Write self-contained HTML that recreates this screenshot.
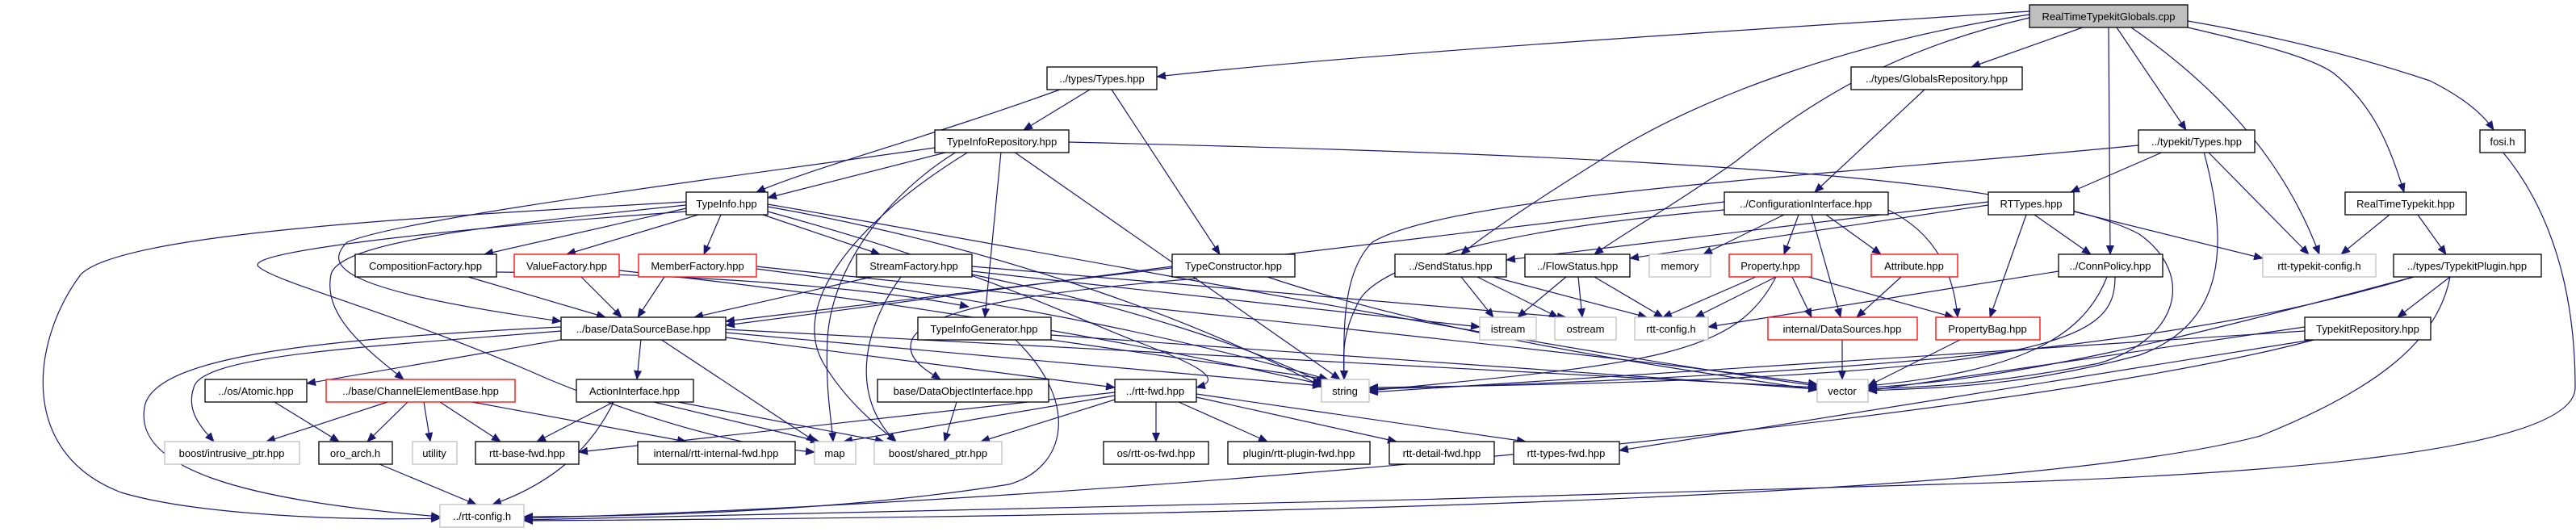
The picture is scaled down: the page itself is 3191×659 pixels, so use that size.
<!DOCTYPE html>
<html><head><meta charset="utf-8"><style>
html,body{margin:0;padding:0;background:#fff;}
svg{display:block}
text{font-family:"Liberation Sans",sans-serif;font-size:13px;fill:#000;}
.e{fill:none;stroke:#191970;stroke-width:1.2;marker-end:url(#a)}
</style></head><body>
<svg width="3191" height="659" viewBox="0 0 3191 659" xmlns="http://www.w3.org/2000/svg">
<defs><marker id="a" markerUnits="userSpaceOnUse" markerWidth="12" markerHeight="10" refX="11" refY="5" orient="auto"><path d="M0,0 L12,5 L0,10 z" fill="#191970"/></marker></defs>
<g>
<!-- Globals -->
<path class="e" d="M2514,14 C2200,35 1700,65 1433,95"/>
<path class="e" d="M2514,18 C2300,50 2100,120 1980,200 C1900,250 1840,290 1810,315"/>
<path class="e" d="M2514,22 C2350,60 2250,120 2150,200 C2080,250 2010,290 1975,315"/>
<path class="e" d="M2580,34 L2442,83"/>
<path class="e" d="M2612,34 L2614,315"/>
<path class="e" d="M2622,34 L2708,161"/>
<path class="e" d="M2640,34 C2750,110 2830,200 2873,315"/>
<path class="e" d="M2710,34 C2800,55 2860,70 2890,90 C2940,130 2960,180 2978,238"/>
<path class="e" d="M2710,26 C2850,50 2950,80 3010,100 C3050,120 3075,140 3089,161"/>
<path class="e" d="M2384,111 L2248,238"/>
<!-- Types.hpp -->
<path class="e" d="M1313,111 C1150,170 1000,210 937,238"/>
<path class="e" d="M1350,111 L1268,161"/>
<path class="e" d="M1377,111 L1511,315"/>
<!-- TypeInfoRepository -->
<path class="e" d="M1175,188 L951,245"/>
<path class="e" d="M1158,183 C900,220 500,270 430,300 C400,330 420,360 695,398"/>
<path class="e" d="M1200,188 C1050,280 980,380 1020,450 C1050,500 1090,530 1110,547"/>
<path class="e" d="M1185,188 C1100,240 1030,330 1025,420 C1022,480 1030,520 1032,547"/>
<path class="e" d="M1240,188 L1220,393"/>
<path class="e" d="M1256,188 L1660,470"/>
<path class="e" d="M1324,176 C1900,190 2500,210 2650,290 C2720,340 2700,420 2600,450 C2450,480 2350,480 2314,482"/>
<!-- TypeInfo -->
<path class="e" d="M850,258 L600,315"/>
<path class="e" d="M865,266 L702,315"/>
<path class="e" d="M893,266 L872,315"/>
<path class="e" d="M945,266 L1090,315"/>
<path class="e" d="M850,250 C500,270 150,290 100,340 C40,420 20,560 150,610 C250,640 450,645 545,642"/>
<path class="e" d="M850,254 C600,280 420,300 410,340 C400,390 450,430 500,470"/>
<path class="e" d="M951,256 C1200,300 1450,380 1640,480"/>
<path class="e" d="M951,253 C1400,330 1900,430 2251,478"/>
<path class="e" d="M951,262 C1200,330 1300,380 1400,420 C1480,450 1520,470 1482,480"/>
<path class="e" d="M850,262 C600,280 300,310 320,330 C340,350 500,390 680,470 C850,540 950,555 1009,560"/>
<!-- factories -->
<path class="e" d="M580,343 L750,393"/>
<path class="e" d="M720,343 L770,393"/>
<path class="e" d="M823,343 L790,393"/>
<path class="e" d="M1080,343 L860,393"/>
<path class="e" d="M1204,336 L1833,405"/>
<path class="e" d="M1204,330 L1940,393"/>
<path class="e" d="M1116,343 C1060,420 1060,500 1110,547"/>
<path class="e" d="M1204,340 C1400,380 1550,430 1640,475"/>
<path class="e" d="M937,333 C1300,380 1500,430 1645,470"/>
<path class="e" d="M937,330 C1500,390 2000,440 2251,476"/>
<path class="e" d="M767,335 C1000,360 1300,400 1637,476"/>
<path class="e" d="M615,337 C900,340 1100,360 1200,380"/>
<path class="e" d="M1452,330 L899,403"/>
<path class="e" d="M1570,343 C1800,420 2100,460 2251,483"/>
<path class="e" d="M1483,345 C1300,360 1150,380 1130,420 C1120,445 1150,460 1165,470"/>
<!-- DataSourceBase -->
<path class="e" d="M794,420 L789,470"/>
<path class="e" d="M700,420 L380,475"/>
<path class="e" d="M818,420 L1010,547"/>
<path class="e" d="M899,418 L1381,480"/>
<path class="e" d="M899,412 L1637,478"/>
<path class="e" d="M899,408 L2251,480"/>
<path class="e" d="M695,405 C400,420 200,440 180,500 C160,580 300,620 545,640"/>
<path class="e" d="M695,410 C450,430 250,440 240,480 C230,510 250,530 265,547"/>
<!-- ChannelElementBase etc -->
<path class="e" d="M480,498 L330,547"/>
<path class="e" d="M505,498 L455,547"/>
<path class="e" d="M525,498 L533,547"/>
<path class="e" d="M545,498 L620,547"/>
<path class="e" d="M585,498 L850,547"/>
<path class="e" d="M340,498 L420,547"/>
<path class="e" d="M760,498 L665,547"/>
<path class="e" d="M760,498 C730,560 680,600 610,625"/>
<path class="e" d="M810,498 L1015,547"/>
<path class="e" d="M840,498 L1095,547"/>
<path class="e" d="M1185,498 L1170,547"/>
<path class="e" d="M1257,420 C1340,500 1320,580 1250,600 C1000,640 700,640 649,640"/>
<path class="e" d="M1295,420 L1645,470"/>
<path class="e" d="M1302,415 L2251,482"/>
<path class="e" d="M470,575 L590,625"/>
<!-- rtt-fwd -->
<path class="e" d="M1432,498 L1432,547"/>
<path class="e" d="M1460,498 L1570,547"/>
<path class="e" d="M1482,492 L1730,547"/>
<path class="e" d="M1482,488 L1890,547"/>
<path class="e" d="M1381,486 L717,560"/>
<path class="e" d="M1381,490 L1045,547"/>
<path class="e" d="M1381,495 L1215,547"/>
<!-- ConfigurationInterface -->
<path class="e" d="M2210,266 L2110,315"/>
<path class="e" d="M2228,266 L2210,315"/>
<path class="e" d="M2262,266 L2330,315"/>
<path class="e" d="M2244,266 L2280,393"/>
<path class="e" d="M2136,260 C1900,280 1700,320 1680,380 C1660,420 1665,450 1665,470"/>
<path class="e" d="M2136,250 L899,398"/>
<path class="e" d="M2339,260 C2400,290 2420,340 2425,393"/>
<!-- RTTypes -->
<path class="e" d="M2520,266 L2590,315"/>
<path class="e" d="M2510,266 L2465,393"/>
<path class="e" d="M2569,262 L2803,320"/>
<path class="e" d="M2463,250 L1866,322"/>
<path class="e" d="M2463,254 L2019,320"/>
<!-- typekit Types -->
<path class="e" d="M2680,188 L2565,238"/>
<path class="e" d="M2735,188 L2860,315"/>
<path class="e" d="M2730,188 C2760,300 2760,400 2650,440 C2500,480 2400,480 2314,484"/>
<path class="e" d="M2649,180 C2300,215 1800,240 1700,300 C1660,340 1665,420 1665,470"/>
<!-- ConnPolicy -->
<path class="e" d="M2550,336 L2116,405"/>
<path class="e" d="M2610,343 C2580,420 2500,460 2314,478"/>
<path class="e" d="M2620,343 C2620,420 2560,470 1696,480"/>
<!-- Property -->
<path class="e" d="M2175,343 L2060,393"/>
<path class="e" d="M2200,343 L2100,393"/>
<path class="e" d="M2220,343 L2244,393"/>
<path class="e" d="M2240,343 L2420,393"/>
<path class="e" d="M2200,343 C2150,440 2050,450 1696,484"/>
<path class="e" d="M2355,343 L2300,393"/>
<path class="e" d="M2282,420 L2282,470"/>
<path class="e" d="M2430,420 L2314,478"/>
<!-- Send/Flow -->
<path class="e" d="M1810,343 L1850,393"/>
<path class="e" d="M1830,343 L1930,393"/>
<path class="e" d="M1850,343 L2040,393"/>
<path class="e" d="M1940,343 L1880,393"/>
<path class="e" d="M1955,343 L1960,393"/>
<path class="e" d="M1975,343 L2060,393"/>
<!-- RealTimeTypekit / Plugin -->
<path class="e" d="M2960,266 L2900,315"/>
<path class="e" d="M2995,266 L3030,315"/>
<path class="e" d="M3035,343 L2970,393"/>
<path class="e" d="M2990,343 C2700,420 2500,470 2314,480"/>
<path class="e" d="M2990,343 C2800,400 2500,460 1696,482"/>
<path class="e" d="M3035,343 C3020,420 2950,480 2800,540 C2500,620 1500,640 649,645"/>
<path class="e" d="M2855,405 L2314,484"/>
<path class="e" d="M2855,410 L1696,486"/>
<path class="e" d="M2870,420 L2006,558"/>
<path class="e" d="M2870,420 C2500,520 1400,620 649,642"/>
<path class="e" d="M3100,188 C3160,260 3190,360 3190,480 C3190,560 2800,590 2400,600 C1800,620 900,640 649,644"/>
</g>
<g stroke-width="1.3">
<rect x="2514" y="6" width="196" height="28" fill="#bfbfbf" stroke="#000"/>
<rect x="2293" y="83" width="212" height="28" fill="#fff" stroke="#000"/>
<rect x="1297" y="83" width="136" height="28" fill="#fff" stroke="#000"/>
<rect x="1158" y="161" width="166" height="28" fill="#fff" stroke="#000"/>
<rect x="2649" y="161" width="144" height="28" fill="#fff" stroke="#000"/>
<rect x="3072" y="161" width="56" height="28" fill="#fff" stroke="#000"/>
<rect x="850" y="238" width="101" height="28" fill="#fff" stroke="#000"/>
<rect x="2136" y="238" width="203" height="28" fill="#fff" stroke="#000"/>
<rect x="2463" y="238" width="106" height="28" fill="#fff" stroke="#000"/>
<rect x="2905" y="238" width="150" height="28" fill="#fff" stroke="#000"/>
<rect x="440" y="315" width="175" height="28" fill="#fff" stroke="#000"/>
<rect x="637" y="315" width="130" height="28" fill="#fff" stroke="#f00"/>
<rect x="791" y="315" width="146" height="28" fill="#fff" stroke="#f00"/>
<rect x="1061" y="315" width="143" height="28" fill="#fff" stroke="#000"/>
<rect x="1452" y="315" width="152" height="28" fill="#fff" stroke="#000"/>
<rect x="1728" y="315" width="138" height="28" fill="#fff" stroke="#000"/>
<rect x="1889" y="315" width="130" height="28" fill="#fff" stroke="#000"/>
<rect x="2043" y="315" width="76" height="28" fill="#fff" stroke="#bfbfbf"/>
<rect x="2142" y="315" width="102" height="28" fill="#fff" stroke="#f00"/>
<rect x="2318" y="315" width="107" height="28" fill="#fff" stroke="#f00"/>
<rect x="2550" y="315" width="129" height="28" fill="#fff" stroke="#000"/>
<rect x="2803" y="315" width="140" height="28" fill="#fff" stroke="#bfbfbf"/>
<rect x="2965" y="315" width="183" height="28" fill="#fff" stroke="#000"/>
<rect x="695" y="393" width="204" height="28" fill="#fff" stroke="#000"/>
<rect x="1137" y="393" width="165" height="28" fill="#fff" stroke="#000"/>
<rect x="1833" y="393" width="70" height="28" fill="#fff" stroke="#bfbfbf"/>
<rect x="1926" y="393" width="76" height="28" fill="#fff" stroke="#bfbfbf"/>
<rect x="2025" y="393" width="91" height="28" fill="#fff" stroke="#bfbfbf"/>
<rect x="2190" y="393" width="185" height="28" fill="#fff" stroke="#f00"/>
<rect x="2398" y="393" width="129" height="28" fill="#fff" stroke="#f00"/>
<rect x="2855" y="393" width="156" height="28" fill="#fff" stroke="#000"/>
<rect x="254" y="470" width="126" height="28" fill="#fff" stroke="#000"/>
<rect x="404" y="470" width="234" height="28" fill="#fff" stroke="#f00"/>
<rect x="714" y="470" width="145" height="28" fill="#fff" stroke="#000"/>
<rect x="1087" y="470" width="212" height="28" fill="#fff" stroke="#000"/>
<rect x="1381" y="470" width="101" height="28" fill="#fff" stroke="#000"/>
<rect x="1637" y="470" width="59" height="28" fill="#fff" stroke="#bfbfbf"/>
<rect x="2251" y="470" width="63" height="28" fill="#fff" stroke="#bfbfbf"/>
<rect x="204" y="547" width="167" height="28" fill="#fff" stroke="#bfbfbf"/>
<rect x="395" y="547" width="91" height="28" fill="#fff" stroke="#000"/>
<rect x="511" y="547" width="55" height="28" fill="#fff" stroke="#bfbfbf"/>
<rect x="589" y="547" width="128" height="28" fill="#fff" stroke="#000"/>
<rect x="790" y="547" width="195" height="28" fill="#fff" stroke="#000"/>
<rect x="1009" y="547" width="51" height="28" fill="#fff" stroke="#bfbfbf"/>
<rect x="1083" y="547" width="158" height="28" fill="#fff" stroke="#bfbfbf"/>
<rect x="1367" y="547" width="130" height="28" fill="#fff" stroke="#000"/>
<rect x="1521" y="547" width="176" height="28" fill="#fff" stroke="#000"/>
<rect x="1721" y="547" width="130" height="28" fill="#fff" stroke="#000"/>
<rect x="1875" y="547" width="131" height="28" fill="#fff" stroke="#000"/>
<rect x="545" y="625" width="104" height="28" fill="#fff" stroke="#bfbfbf"/>
</g>
<g text-anchor="middle">
<text x="2612" y="25">RealTimeTypekitGlobals.cpp</text>
<text x="2399" y="102">../types/GlobalsRepository.hpp</text>
<text x="1365" y="102">../types/Types.hpp</text>
<text x="1241" y="180">TypeInfoRepository.hpp</text>
<text x="2721" y="180">../typekit/Types.hpp</text>
<text x="3100" y="180">fosi.h</text>
<text x="900" y="257">TypeInfo.hpp</text>
<text x="2237" y="257">../ConfigurationInterface.hpp</text>
<text x="2516" y="257">RTTypes.hpp</text>
<text x="2980" y="257">RealTimeTypekit.hpp</text>
<text x="527" y="334">CompositionFactory.hpp</text>
<text x="702" y="334">ValueFactory.hpp</text>
<text x="864" y="334">MemberFactory.hpp</text>
<text x="1132" y="334">StreamFactory.hpp</text>
<text x="1528" y="334">TypeConstructor.hpp</text>
<text x="1797" y="334">../SendStatus.hpp</text>
<text x="1954" y="334">../FlowStatus.hpp</text>
<text x="2081" y="334">memory</text>
<text x="2193" y="334">Property.hpp</text>
<text x="2371" y="334">Attribute.hpp</text>
<text x="2614" y="334">../ConnPolicy.hpp</text>
<text x="2873" y="334">rtt-typekit-config.h</text>
<text x="3056" y="334">../types/TypekitPlugin.hpp</text>
<text x="797" y="412">../base/DataSourceBase.hpp</text>
<text x="1219" y="412">TypeInfoGenerator.hpp</text>
<text x="1868" y="412">istream</text>
<text x="1964" y="412">ostream</text>
<text x="2070" y="412">rtt-config.h</text>
<text x="2282" y="412">internal/DataSources.hpp</text>
<text x="2462" y="412">PropertyBag.hpp</text>
<text x="2933" y="412">TypekitRepository.hpp</text>
<text x="317" y="489">../os/Atomic.hpp</text>
<text x="521" y="489">../base/ChannelElementBase.hpp</text>
<text x="786" y="489">ActionInterface.hpp</text>
<text x="1193" y="489">base/DataObjectInterface.hpp</text>
<text x="1431" y="489">../rtt-fwd.hpp</text>
<text x="1666" y="489">string</text>
<text x="2282" y="489">vector</text>
<text x="287" y="566">boost/intrusive_ptr.hpp</text>
<text x="440" y="566">oro_arch.h</text>
<text x="538" y="566">utility</text>
<text x="653" y="566">rtt-base-fwd.hpp</text>
<text x="887" y="566">internal/rtt-internal-fwd.hpp</text>
<text x="1034" y="566">map</text>
<text x="1162" y="566">boost/shared_ptr.hpp</text>
<text x="1432" y="566">os/rtt-os-fwd.hpp</text>
<text x="1609" y="566">plugin/rtt-plugin-fwd.hpp</text>
<text x="1786" y="566">rtt-detail-fwd.hpp</text>
<text x="1940" y="566">rtt-types-fwd.hpp</text>
<text x="597" y="644">../rtt-config.h</text>
</g>
</svg>
</body></html>
